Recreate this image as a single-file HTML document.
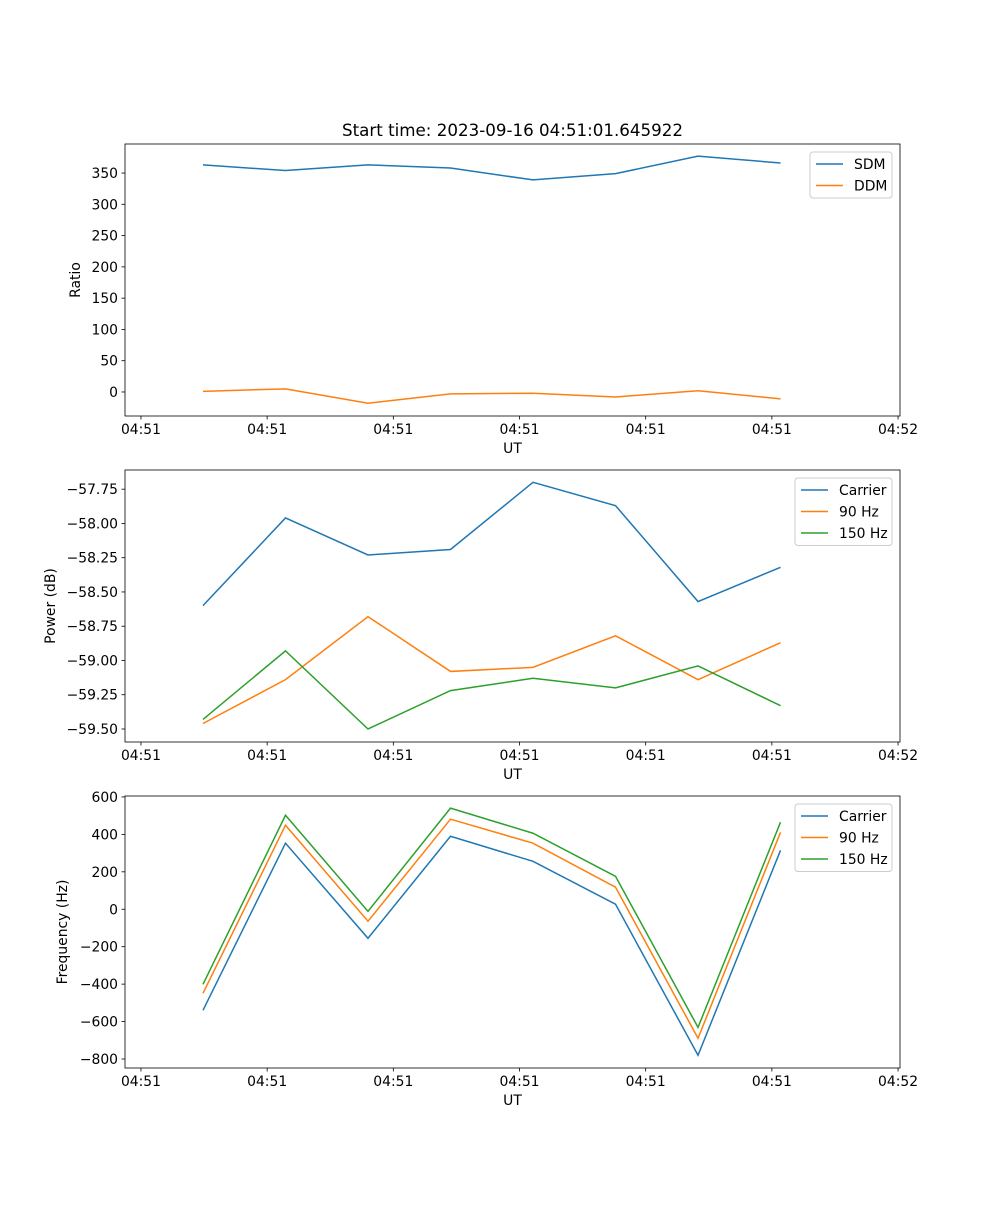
<!DOCTYPE html>
<html><head><meta charset="utf-8"><style>
body{margin:0;background:#fff;}
svg{font-family:"DejaVu Sans","Liberation Sans",sans-serif;}
</style></head><body>
<svg id="fig" width="1000" height="1200" xmlns="http://www.w3.org/2000/svg"></svg>
<script>
const xIndex=[0,1,2,3,4,5,6,7];
const xTickLabels=["04:51","04:51","04:51","04:51","04:51","04:51","04:52"];
const sdm=[363,354,363,358,339,349,377,366];
const ddm=[1,5,-18,-3,-2,-8,2,-11];
const ratioTicks=[0,50,100,150,200,250,300,350];
const powCarrier=[-58.60,-57.96,-58.23,-58.19,-57.70,-57.87,-58.57,-58.32];
const pow90=[-59.46,-59.14,-58.68,-59.08,-59.05,-58.82,-59.14,-58.87];
const pow150=[-59.43,-58.93,-59.50,-59.22,-59.13,-59.20,-59.04,-59.33];
const powTicks=[-59.5,-59.25,-59.0,-58.75,-58.5,-58.25,-58.0,-57.75];
const freqCarrier=[-540,353,-155,390,256,27,-780,315];
const freq90=[-449,449,-64,481,353,118,-689,411];
const freq150=[-401,502,-11,540,406,176,-631,465];
const freqTicks=[-800,-600,-400,-200,0,200,400,600];

const NS="http://www.w3.org/2000/svg";
const svg=document.getElementById('fig');
function el(tag,attrs,parent){const e=document.createElementNS(NS,tag);for(const k in attrs)e.setAttribute(k,attrs[k]);(parent||svg).appendChild(e);return e;}
const L=125,R=900;
const xmin=-0.945,xmax=8.448;
const xs=v=>L+(v-xmin)/(xmax-xmin)*(R-L);
const tickIdx0=-0.7515,tickStep=1.5293;
const C1="#1f77b4",C2="#ff7f0e",C3="#2ca02c";

function axes(name,top,bot,ymin,ymax,yticks,fmt,ylabel,series,legendBox){
  const g=el('g',{});
  
  
  const ys=v=>bot-(v-ymin)/(ymax-ymin)*(bot-top);
  series.forEach(s=>{
    const p=el('polyline',{points:xIndex.map((x,i)=>xs(x)+','+ys(s.vals[i])).join(' '),fill:'none',stroke:s.color,'stroke-width':1.5},g);
    
    
  });
  const fr=el('rect',{x:L,y:top,width:R-L,height:bot-top,fill:'none',stroke:'#000','stroke-width':0.8},g);
  
  
  xTickLabels.forEach((t,k)=>{
    const x=xs(tickIdx0+k*tickStep);
    el('line',{x1:x,x2:x,y1:bot,y2:bot+3.5,stroke:'#000','stroke-width':0.8},g);
    const tx=el('text',{x:x,y:bot+18,'font-size':13.9,'text-anchor':'middle'},g);tx.textContent=t;
    
    
  });
  yticks.forEach(v=>{
    const y=ys(v);
    el('line',{x1:L-3.5,x2:L,y1:y,y2:y,stroke:'#000','stroke-width':0.8},g);
    const tx=el('text',{x:L-7,y:y+5,'font-size':13.9,'text-anchor':'end'},g);tx.textContent=fmt(v);
    
    
  });
  const xl=el('text',{x:(L+R)/2,y:bot+37,'font-size':13.9,'text-anchor':'middle'},g);xl.textContent='UT';
  
  
  const lx=legendBox.lx,yc=(top+bot)/2;
  const yl=el('text',{x:lx,y:yc,'font-size':13.9,'text-anchor':'middle',transform:`rotate(-90 ${lx} ${yc})`},g);yl.textContent=ylabel;
  
  
  const lg=el('g',{},g);
  
  
  el('rect',{x:legendBox.x,y:top+8,width:R-8-legendBox.x,height:series.length*21.5+3,fill:'#fff',stroke:'#ccc',rx:3},lg);
  series.forEach((s,i)=>{
    const y=top+20+i*21.5;
    el('line',{x1:legendBox.x+6,x2:legendBox.x+33,y1:y,y2:y,stroke:s.color,'stroke-width':1.5},lg);
    const t=el('text',{x:legendBox.x+44,y:y+5,'font-size':13.9},lg);t.textContent=s.label;
    
    
  });
}
const title=el('text',{x:512.5,y:136,'font-size':16.7,'text-anchor':'middle'});
title.textContent='Start time: 2023-09-16 04:51:01.645922';


axes('ratio-axes',144,416,-38.4,396.4,ratioTicks,v=>String(v).replace('-','−'),'Ratio',
  [{id:'sdm',label:'SDM',vals:sdm,color:C1},{id:'ddm',label:'DDM',vals:ddm,color:C2}],{x:810,lx:80});
axes('power-axes',470,742,-59.595,-57.61,powTicks,v=>v.toFixed(2).replace('-','−'),'Power (dB)',
  [{id:'power-carrier',label:'Carrier',vals:powCarrier,color:C1},{id:'power-90hz',label:'90 Hz',vals:pow90,color:C2},{id:'power-150hz',label:'150 Hz',vals:pow150,color:C3}],{x:795,lx:55});
axes('frequency-axes',796,1068,-848,605,freqTicks,v=>String(v).replace('-','−'),'Frequency (Hz)',
  [{id:'freq-carrier',label:'Carrier',vals:freqCarrier,color:C1},{id:'freq-90hz',label:'90 Hz',vals:freq90,color:C2},{id:'freq-150hz',label:'150 Hz',vals:freq150,color:C3}],{x:795,lx:67});
</script>
</body></html>
